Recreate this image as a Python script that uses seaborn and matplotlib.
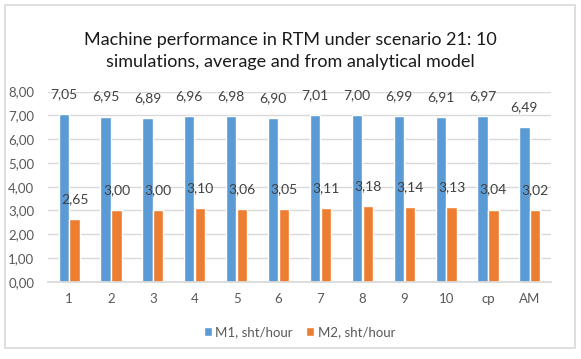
import pandas as pd
import matplotlib.pyplot as plt
import seaborn as sns
from matplotlib.patches import Rectangle
from matplotlib.ticker import FuncFormatter

categories = ['1', '2', '3', '4', '5', '6', '7', '8', '9', '10', 'cp', 'AM']
m1_values = [7.05, 6.95, 6.89, 6.96, 6.98, 6.90, 7.01, 7.00, 6.99, 6.91, 6.97, 6.49]
m2_values = [2.65, 3.00, 3.00, 3.10, 3.06, 3.05, 3.11, 3.18, 3.14, 3.13, 3.04, 3.02]
series_names = ['M1, sht/hour', 'M2, sht/hour']
colors = ['#5B9BD5', '#ED7D31']

df = pd.DataFrame({
    'cat': categories * 2,
    'value': m1_values + m2_values,
    'series': [series_names[0]] * len(categories) + [series_names[1]] * len(categories),
})

sns.set_theme(style="white")
plt.rcParams['font.family'] = ['Lato', 'DejaVu Sans']

def comma(x, pos=None):
    return f'{x:.2f}'.replace('.', ',')

fig = plt.figure(figsize=(5.81, 3.59), dpi=100)
ax = fig.add_axes([0.083, 0.215, 0.865, 0.53])

sns.barplot(data=df, x='cat', y='value', hue='series', palette=colors,
            width=0.52, gap=0.06, ax=ax, saturation=1)

ax.set_ylim(0, 8)
ax.set_yticks([0, 1, 2, 3, 4, 5, 6, 7, 8])
ax.yaxis.set_major_formatter(FuncFormatter(comma))
ax.grid(axis='y', color='#D9D9D9', linewidth=1)
ax.set_axisbelow(True)
for s in ['top', 'right', 'left']:
    ax.spines[s].set_visible(False)
ax.spines['bottom'].set_color('#D9D9D9')
ax.tick_params(axis='both', colors='#595959', labelsize=9.5, length=0, pad=8)
ax.tick_params(axis='y', pad=10)
ax.set_xlabel('')
ax.set_ylabel('')

for cont in ax.containers:
    ax.bar_label(cont, labels=[comma(v) for v in cont.datavalues],
                 padding=10, color='#404040', fontsize=10)

ax.legend(loc='upper center', bbox_to_anchor=(0.5, -0.17), ncol=2, frameon=False,
          fontsize=9.5, handlelength=0.6, handleheight=0.6, handletextpad=0.3,
          columnspacing=1.0, labelcolor='#595959')

fig.suptitle('Machine performance in RTM under scenario 21: 10\nsimulations, average and from analytical model',
             x=0.5, y=0.91, fontsize=13, color='#1a1a1a', linespacing=1.4)

fig.patches.append(Rectangle((0.008, 0.03), 0.982, 0.955, transform=fig.transFigure,
                             fill=False, edgecolor='#D9D9D9', linewidth=1.2))

fig.savefig('out.png', dpi=100)
